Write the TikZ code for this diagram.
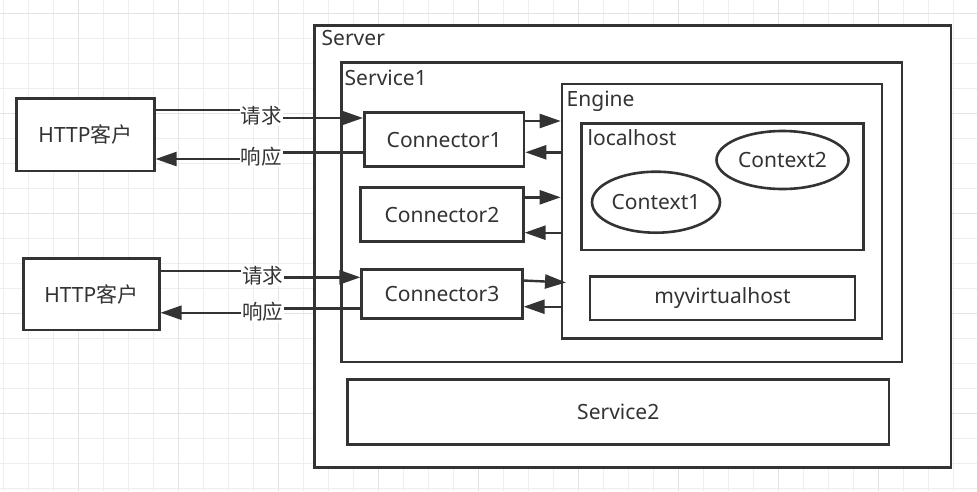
\documentclass[tikz,border=0pt]{standalone}
\usepackage{fontspec}
\setmainfont{Noto Sans}
\newfontfamily\cjk{Noto Sans CJK SC}
\usetikzlibrary{arrows.meta,shapes.geometric}
\pgfdeclarelayer{gridlayer}
\pgfdeclarelayer{lineslayer}
\pgfdeclarelayer{labellayer}
\pgfsetlayers{gridlayer,main,lineslayer,labellayer}
\definecolor{lc}{HTML}{333333}
\definecolor{gminor}{HTML}{EEEEEE}
\definecolor{gmajor}{HTML}{E3E3E3}
\begin{document}
\begin{tikzpicture}[x=1pt,y=-1pt,
  font=\fontsize{21pt}{25pt}\selectfont, text=lc,
  box/.style={draw=lc, line width=2.6pt, fill=white, inner sep=0pt},
  oval/.style={ellipse, draw=lc, line width=2.6pt, fill=white, inner sep=0pt},
  title/.style={anchor=base west, inner sep=0pt},
  arr/.style={draw=lc, line width=2.4pt, -{Triangle[length=21pt,width=14pt]}},
  lbl/.style={fill=white, inner sep=1pt, font=\cjk\fontsize{20.5pt}{24pt}\selectfont}]
\useasboundingbox (0,0) rectangle (977,491);
\begin{pgfonlayer}{gridlayer}
  \fill[white] (0,0) rectangle (977,491);
  \foreach \x in {3,28,...,978} \draw[gminor, line width=1pt] (\x,0) -- (\x,491);
  \foreach \y in {13,38,...,488} \draw[gminor, line width=1pt] (0,\y) -- (977,\y);
  \foreach \x in {78,178,...,978} \draw[gmajor, line width=1pt] (\x,0) -- (\x,491);
  \foreach \y in {13,113,...,413} \draw[gmajor, line width=1pt] (0,\y) -- (977,\y);
\end{pgfonlayer}

% containers
\node[box, minimum width=636.5pt, minimum height=441.8pt] (server) at (632.75,246.6) {};
\node[title] (servert) at (321.5,45) {Server};
\node[box, minimum width=560.5pt, minimum height=299.5pt] (svc1) at (621.75,212.25) {};
\node[title] (svc1t) at (344.5,85) {Service1};
\node[box, minimum width=320pt, minimum height=254.5pt] (engine) at (722,211.25) {};
\node[title] (enginet) at (566.5,106.5) {Engine};
\node[box, minimum width=281.6pt, minimum height=126.7pt] (lh) at (722.5,186.65) {};
\node[title] (lht) at (587.5,145.7) {localhost};
\node[oval, minimum width=132pt, minimum height=58pt] (ctx2) at (782.5,160) {Context2};
\node[oval, minimum width=128pt, minimum height=61pt] (ctx1) at (656,202.2) {Context1};
\node[box, minimum width=265pt, minimum height=43.3pt] (mvh) at (722.5,298.35) {myvirtualhost};
\node[box, minimum width=541.5pt, minimum height=65pt] (svc2) at (618.25,411.8) {Service2};

% connectors
\node[box, minimum width=159.7pt, minimum height=54.4pt] (c1) at (444.15,139.5) {Connector1};
\node[box, minimum width=162.6pt, minimum height=54.4pt] (c2) at (442,214.5) {Connector2};
\node[box, minimum width=160.6pt, minimum height=49pt] (c3) at (442,293.8) {Connector3};

% clients
\node[box, minimum width=137.6pt, minimum height=72.3pt] (h1) at (85.5,134.85) {HTTP{\cjk 客户}};
\node[box, minimum width=136pt, minimum height=71.7pt] (h2) at (91.3,294.15) {HTTP{\cjk 客户}};

% labels
\begin{pgfonlayer}{labellayer}
  \node[lbl] (req1) at (261,115.5) {请求};
  \node[lbl] (resp1) at (261,156.5) {响应};
  \node[lbl] (req2) at (262.7,275.5) {请求};
  \node[lbl] (resp2) at (262.7,311.5) {响应};
\end{pgfonlayer}

\coordinate (c3in) at (566,282.5);
\begin{pgfonlayer}{lineslayer}
  \draw[arr] (h1.east |- 0,110) -| (req1.center) |- (c1.west |- 0,118);
  \draw[arr] (c1.west |- 0,152.5) -| (resp1.center) |- (h1.east |- 0,159);
  \draw[arr] (h2.east |- 0,271) -| (req2.center) |- (c3.west |- 0,277.3);
  \draw[arr] (c3.west |- 0,308.3) -| (resp2.center) |- (h2.east |- 0,312.7);
  \draw[arr] (c1.east |- 0,121) -- (engine.west |- 0,121);
  \draw[arr] (engine.west |- 0,152.3) -- (c1.east |- 0,152.3);
  \draw[arr] (c2.east |- 0,197.3) -- (engine.west |- 0,197.3);
  \draw[arr] (engine.west |- 0,232.7) -- (c2.east |- 0,232.7);
  \draw[arr] (c3.east |- 0,280.5) -- (c3in);
  \draw[arr] (engine.west |- 0,306.7) -- (c3.east |- 0,306.7);
\end{pgfonlayer}
\end{tikzpicture}
\end{document}
